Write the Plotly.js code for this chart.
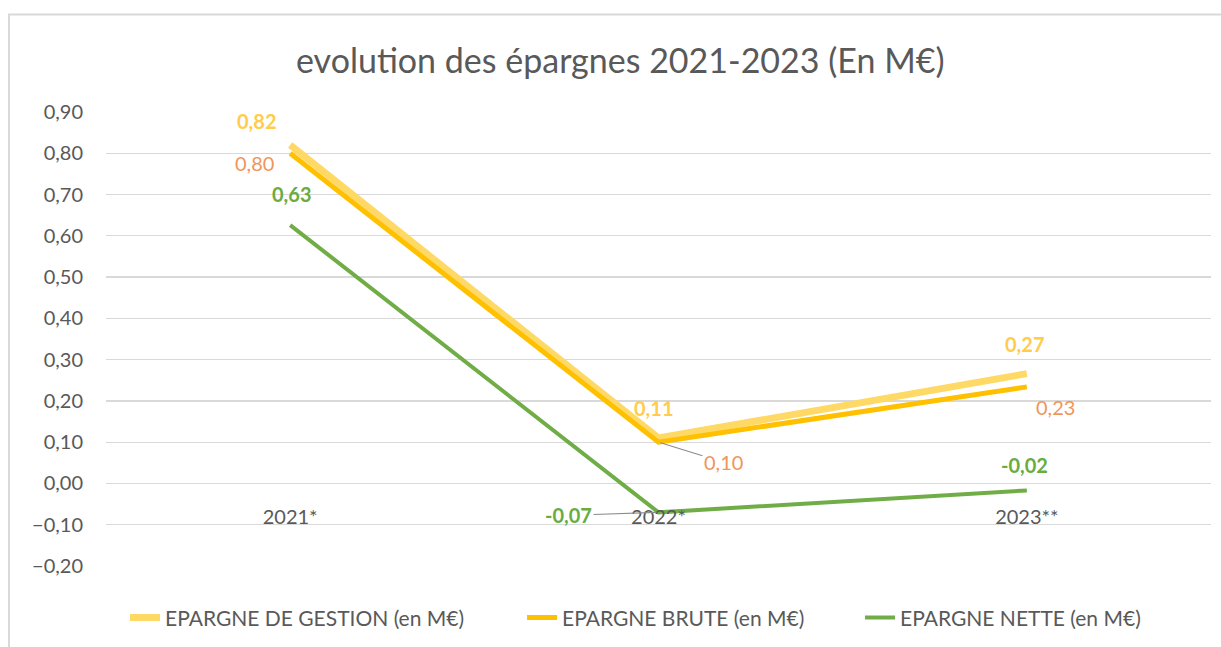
<!DOCTYPE html>
<html>
<head>
<meta charset="utf-8">
<script src="https://cdn.plot.ly/plotly-3.0.1.min.js"></script>
<style>html,body{margin:0;padding:0;background:#fff;}#chart{width:1221px;height:647px;}</style>
</head>
<body>
<div id="chart"></div>
<script>
const categories = ['2021*', '2022*', '2023**'];
const seriesNames = ['EPARGNE DE GESTION (en M€)', 'EPARGNE BRUTE (en M€)', 'EPARGNE NETTE (en M€)'];
const gestion = [0.82, 0.11, 0.266];
const brute = [0.80, 0.10, 0.234];
const nette = [0.626, -0.07, -0.017];
const chartTitle = 'evolution des épargnes 2021-2023 (En M€)';

const FONT = 'Lato, "Open Sans", sans-serif';
const GREY = '#595959';

const styles = [
  {color: '#FFD966', width: 7, label: '#FFCC4D', bold: true, legend: 'legend'},
  {color: '#FFC000', width: 5, label: '#F0955A', bold: false, legend: 'legend2'},
  {color: '#70AD47', width: 4, label: '#6AAD3F', bold: true, legend: 'legend3'}
];
const allSeries = [gestion, brute, nette];

const traces = allSeries.map((vals, i) => ({
  type: 'scatter', mode: 'lines', x: categories, y: vals, name: seriesNames[i],
  line: {color: styles[i].color, width: styles[i].width},
  legend: styles[i].legend,
  hoverinfo: 'skip'
}));

// label offsets (pixels) per series and point: [xshift, yshift, arrow]
const offsets = [
  [[-34, 24, false], [-5, 30, false], [-2, 30, false]],
  [[-36, -10, false], [0, 0, true], [29, -20, false]],
  [[1, 31, false], [0, 0, true], [-2, 25, false]]
];
const arrowOffsets = {'1-1': [65, 20], '2-1': [-90, 3]};

const fmt = v => (v < 0 ? '-' : '') + Math.abs(v).toFixed(2).replace('.', ',');
const annotations = [];
allSeries.forEach((vals, i) => {
  vals.forEach((v, j) => {
    const o = offsets[i][j];
    const txt = styles[i].bold ? '<b>' + fmt(v) + '</b>' : fmt(v);
    const a = {
      x: categories[j], y: v, xref: 'x', yref: 'y', text: txt,
      font: {family: FONT, size: 20, color: styles[i].label},
      showarrow: false, xshift: o[0], yshift: o[1]
    };
    if (o[2]) {
      const ao = arrowOffsets[i + '-' + j];
      a.showarrow = true; a.arrowhead = 0; a.arrowwidth = 1.2; a.arrowcolor = '#8c8c8c';
      a.ax = ao[0]; a.ay = ao[1]; a.standoff = 2;
      a.xshift = 0; a.yshift = 0;
    }
    annotations.push(a);
  });
});

const legendBase = {orientation: 'h', y: -0.112, yanchor: 'middle', xanchor: 'left',
  font: {family: FONT, size: 21, color: GREY}, bgcolor: 'rgba(0,0,0,0)'};

const layout = {
  width: 1221, height: 647,
  margin: {l: 106, r: 10, t: 112, b: 80},
  paper_bgcolor: '#fff', plot_bgcolor: '#fff',
  separators: ', ',
  title: {text: chartTitle, x: 0.508, xanchor: 'center', y: 0.905, yanchor: 'middle',
          font: {family: FONT, size: 34, color: GREY}},
  xaxis: {
    type: 'category', anchor: 'free', position: 0.2 / 1.1, range: [-0.5, 2.5],
    showgrid: false, zeroline: false, showline: false, ticks: '',
    tickfont: {family: FONT, size: 20, color: GREY}, ticklabelstandoff: 20,
    fixedrange: true
  },
  yaxis: {
    range: [-0.2, 0.9], dtick: 0.1, tick0: 0, tickformat: '.2f',
    showgrid: true, gridcolor: '#d9d9d9', gridwidth: 1.3,
    zeroline: false, showline: false, ticks: '',
    tickfont: {family: FONT, size: 20, color: GREY}, ticklabelstandoff: 22,
    fixedrange: true
  },
  legend: Object.assign({}, legendBase, {x: 0.0172}),
  legend2: Object.assign({}, legendBase, {x: 0.3765}),
  legend3: Object.assign({}, legendBase, {x: 0.6824}),
  annotations: annotations,
  shapes: [{type: 'rect', xref: 'paper', yref: 'paper', x0: -0.0878, x1: 1.2, y0: -0.5, y1: 1.215,
            line: {color: '#d9d9d9', width: 2}, layer: 'below'}],
  showlegend: true
};

Plotly.newPlot('chart', traces, layout, {displayModeBar: false, staticPlot: true});
</script>
</body>
</html>
